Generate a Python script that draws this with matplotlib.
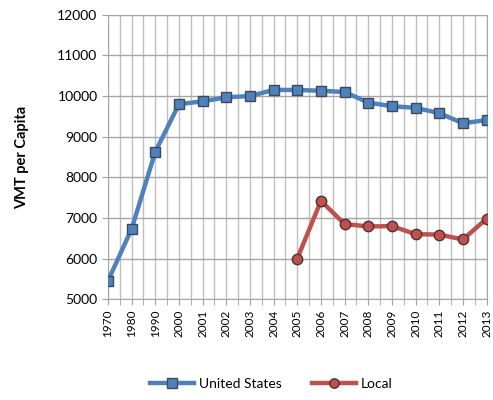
import numpy as np
import matplotlib
matplotlib.use("Agg")
import matplotlib.pyplot as plt

# categories and values
years = ["1970", "1980", "1990", "2000", "2001", "2002", "2003", "2004", "2005",
         "2006", "2007", "2008", "2009", "2010", "2011", "2012", "2013"]
us_vmt = [5450, 6730, 8630, 9800, 9870, 9970, 10000, 10150, 10150,
          10130, 10100, 9840, 9750, 9710, 9580, 9330, 9410]
local_years = ["2005", "2006", "2007", "2008", "2009", "2010", "2011", "2012", "2013"]
local_vmt = [6000, 7420, 6850, 6790, 6800, 6600, 6590, 6470, 6980]

plt.rcParams['font.family'] = ['Lato', 'DejaVu Sans']

fig = plt.figure(figsize=(4.93, 4.0), dpi=100)
ax = fig.add_axes([0.219, 0.252, 0.768, 0.711])

x = np.arange(len(years))
xl = np.array([years.index(y) for y in local_years])

ax.plot(x, us_vmt, color='#4F81BD', lw=3.2, marker='s', ms=7.5,
        mfc='#4F81BD', mec='#3A4A5C', mew=1, label='United States', zorder=3)
ax.plot(xl, local_vmt, color='#C0504D', lw=3.2, marker='o', ms=7.5,
        mfc='#C0504D', mec='#4A3535', mew=1, label='Local', zorder=3)

ax.set_xlim(0, len(years) - 1)
ax.set_ylim(5000, 12000)
ax.set_xticks(x)
ax.set_xticklabels(years, rotation=90, fontsize=8.5)
ax.set_xticks(np.arange(0.5, len(years) - 1, 1), minor=True)
ax.set_yticks(np.arange(5000, 12001, 1000))
ax.tick_params(axis='y', labelsize=10, length=4, color='#A0A0A0')
ax.tick_params(axis='x', which='both', length=4, color='#A0A0A0')

ax.grid(True, axis='x', which='both', color='#BFBFBF', lw=1)
ax.grid(True, axis='y', which='major', color='#A6A6A6', lw=1)
ax.set_axisbelow(True)
for s in ax.spines.values():
    s.set_color('#A6A6A6')

ax.set_ylabel('VMT per Capita', fontsize=10.5, fontweight='bold', labelpad=20)

fig.legend(loc='lower center', bbox_to_anchor=(0.55, -0.005), ncol=2,
           frameon=False, fontsize=10, handlelength=3.2, handletextpad=0.3,
           columnspacing=2.2, markerscale=0.9)

fig.savefig('out.png', dpi=100)
